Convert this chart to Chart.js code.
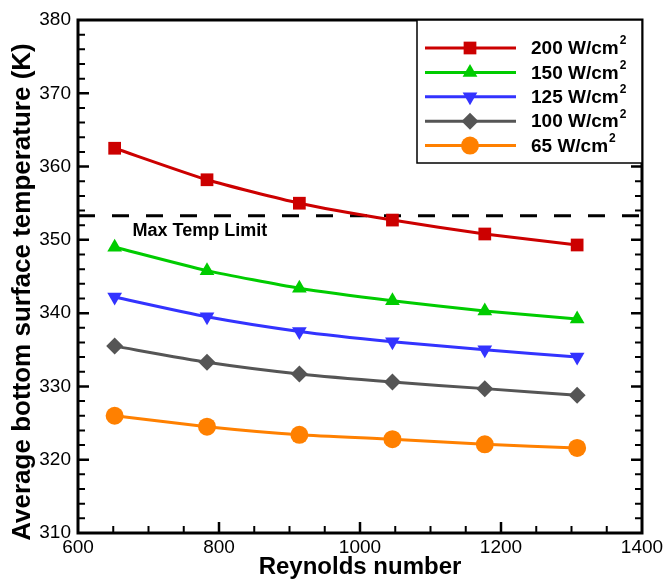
<!DOCTYPE html>
<html lang="en">
<head>
<meta charset="UTF-8">
<title>Average bottom surface temperature vs Reynolds number</title>
<script src="https://cdn.jsdelivr.net/npm/chart.js"></script>
<style>
  html, body { margin: 0; padding: 0; background: #fff; }
</style>
</head>
<body>
<canvas id="tempChart" width="663" height="582"></canvas>
<script>
// data
const reynolds = [652, 783, 914, 1046, 1177, 1308];
const q200 = [362.5, 358.2, 355.0, 352.7, 350.8, 349.3];
const q150 = [349.0, 345.8, 343.4, 341.7, 340.3, 339.2];
const q125 = [342.2, 339.5, 337.5, 336.1, 335.0, 334.0];
const q100 = [335.5, 333.3, 331.7, 330.6, 329.7, 328.8];
const q65 = [326.0, 324.5, 323.4, 322.8, 322.1, 321.6];
const maxTempLimit = 353.3;
const seriesNames = ['200 W/cm²', '150 W/cm²', '125 W/cm²', '100 W/cm²', '65 W/cm²'];
const seriesValues = [q200, q150, q125, q100, q65];

const colors = ['#cc0000', '#00cc00', '#3333ff', '#555555', '#ff8000'];
const markers = ['rect', 'triangle', 'triangle', 'rectRot', 'circle'];
const markerRot = [0, 0, 180, 0, 0];
const markerSize = [9, 8.5, 8.5, 8.5, 9];

const sans = "'Liberation Sans', Arial, sans-serif";

const datasets = seriesNames.map((name, i) => ({
    label: name,
    data: reynolds.map((r, j) => ({ x: r, y: seriesValues[i][j] })),
    borderColor: colors[i],
    backgroundColor: colors[i],
    borderWidth: 3,
    pointStyle: markers[i],
    pointRotation: markerRot[i],
    pointRadius: markerSize[i],
    pointBorderWidth: 0,
    tension: 0.2
}));
datasets.push({
    label: 'limit',
    data: [{ x: 600, y: maxTempLimit }, { x: 1400, y: maxTempLimit }],
    borderColor: '#000',
    borderWidth: 3,
    borderDash: [17, 17],
    pointRadius: 0
});

// frame, inward tick marks and the y title, like the original plot
const frameTicks = {
    id: 'frameTicks',
    beforeDatasetsDraw(chart) {
        const { ctx, chartArea: a, scales: { x, y } } = chart;
        ctx.save();
        ctx.strokeStyle = '#000';
        for (let v = 650; v < 1400; v += 50) {
            const px = x.getPixelForValue(v);
            const major = v % 200 === 0;
            ctx.lineWidth = major ? 2.5 : 2;
            ctx.beginPath();
            ctx.moveTo(px, a.bottom);
            ctx.lineTo(px, a.bottom - (major ? 11 : 7));
            ctx.stroke();
        }
        for (let v = 312; v < 380; v += 2) {
            const py = y.getPixelForValue(v);
            const major = v % 10 === 0;
            const len = major ? 11 : 7;
            ctx.lineWidth = major ? 2.5 : 2;
            ctx.beginPath();
            ctx.moveTo(a.left, py); ctx.lineTo(a.left + len, py);
            ctx.moveTo(a.right, py); ctx.lineTo(a.right - len, py);
            ctx.stroke();
        }
        ctx.lineWidth = 3;
        ctx.strokeRect(a.left, a.top, a.right - a.left, a.bottom - a.top);

        ctx.fillStyle = '#000';
        // label of the dashed line
        ctx.font = 'bold 18px ' + sans;
        ctx.textBaseline = 'alphabetic';
        ctx.fillText('Max Temp Limit', x.getPixelForValue(600) + 54.5, y.getPixelForValue(maxTempLimit) + 20);

        // y axis title, a bit lower than the axis centre in the original
        ctx.translate(23, 292);
        ctx.rotate(-Math.PI / 2);
        ctx.font = 'bold 26px ' + sans;
        ctx.textAlign = 'center';
        ctx.textBaseline = 'middle';
        ctx.fillText('Average bottom surface temperature (K)', 0, 0);
        ctx.restore();
    }
};

const boxLegend = {
    id: 'boxLegend',
    afterDraw(chart) {
        const { ctx, chartArea: a } = chart;
        const left = 417, top = a.top, bottom = 163;
        ctx.save();
        ctx.fillStyle = '#fff';
        ctx.fillRect(left, top, a.right - left, bottom - top);
        ctx.strokeStyle = '#000';
        ctx.lineWidth = 1.5;
        ctx.strokeRect(left, top, a.right - left, bottom - top);

        seriesNames.forEach((name, i) => {
            const yy = 48 + i * 24.4;
            ctx.strokeStyle = colors[i];
            ctx.fillStyle = colors[i];
            ctx.lineWidth = 3;
            ctx.beginPath();
            ctx.moveTo(425, yy);
            ctx.lineTo(516, yy);
            ctx.stroke();
            Chart.helpers.drawPoint(ctx, {
                pointStyle: markers[i], rotation: markerRot[i],
                radius: markerSize[i], borderWidth: 0
            }, 470, yy);

            const parts = name.split('²');
            ctx.fillStyle = '#000';
            ctx.textBaseline = 'middle';
            ctx.font = 'bold 19px ' + sans;
            ctx.fillText(parts[0], 531, yy + 1);
            const w = ctx.measureText(parts[0]).width;
            ctx.font = 'bold 12px ' + sans;
            ctx.fillText('2', 531 + w + 1, yy - 7);
        });
        ctx.restore();
    }
};

new Chart(document.getElementById('tempChart'), {
    type: 'line',
    data: { datasets: datasets },
    options: {
        responsive: false,
        animation: false,
        devicePixelRatio: 1,
        layout: { padding: { left: 0, top: 20, right: 21, bottom: 0 } },
        plugins: {
            legend: { display: false },
            tooltip: { enabled: false }
        },
        scales: {
            x: {
                type: 'linear',
                min: 600,
                max: 1400,
                afterFit: s => {
                    s.height = 49;
                    s.paddingLeft = 0;
                    s.paddingRight = 0;
                },
                grid: { display: false, drawTicks: false },
                border: { display: false },
                ticks: {
                    stepSize: 200,
                    padding: 3,
                    color: '#000',
                    font: { family: sans, size: 19 },
                    callback: v => String(v)
                },
                title: {
                    display: true,
                    text: 'Reynolds number',
                    color: '#000',
                    padding: { top: 0, bottom: 0 },
                    font: { family: sans, size: 24, weight: 'bold' }
                }
            },
            y: {
                min: 310,
                max: 380,
                afterFit: s => { s.width = 78; },
                grid: { display: false, drawTicks: false },
                border: { display: false },
                ticks: {
                    stepSize: 10,
                    padding: 7,
                    color: '#000',
                    font: { family: sans, size: 19 },
                    callback: v => String(v)
                }
            }
        }
    },
    plugins: [frameTicks, boxLegend]
});
</script>
</body>
</html>
